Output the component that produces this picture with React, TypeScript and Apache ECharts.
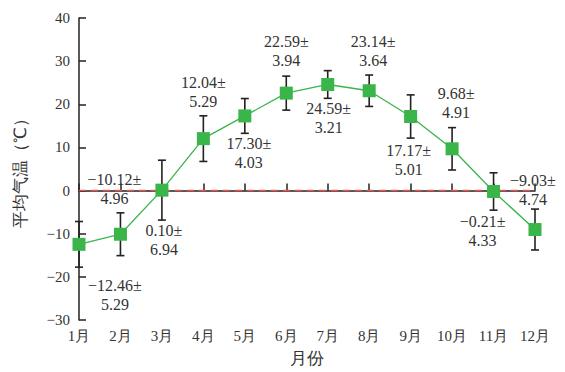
import React, { useEffect, useRef } from "react";
import * as echarts from "echarts";

const months = ["1月", "2月", "3月", "4月", "5月", "6月", "7月", "8月", "9月", "10月", "11月", "12月"];
const means = [-12.46, -10.12, 0.1, 12.04, 17.3, 22.59, 24.59, 23.14, 17.17, 9.68, -0.21, -9.03];
const sds = [5.29, 4.96, 6.94, 5.29, 4.03, 3.94, 3.21, 3.64, 5.01, 4.91, 4.33, 4.74];
const yTicks = { min: -30, max: 40, interval: 10 };
// label placement relative to each point (pixels)
const labelOffsets: [number, number][] = [
  [36, 51], [-6, -45], [2, 50], [0, -47], [4, 37], [0, -42],
  [1, 34], [4, -40], [-2, 44], [4, -46], [-11, 40], [-2, -40],
];

const FONT = "Liberation Serif";
const fmt = (v: number) => (v < 0 ? "\u2212" + Math.abs(v).toFixed(2) : v.toFixed(2));

export default function App() {
  const ref = useRef<HTMLDivElement>(null);
  useEffect(() => {
    if (!ref.current) return;
    const chart = echarts.init(ref.current, undefined, { renderer: "svg" });
    chart.setOption({
      animation: false,
      textStyle: { fontFamily: FONT },
      grid: { left: 79, right: 30, top: 18, bottom: 52, outerBoundsMode: "none" },
      xAxis: {
        type: "category",
        data: months,
        boundaryGap: false,
        name: "月份",
        nameLocation: "middle",
        nameGap: 30,
        nameTextStyle: { fontSize: 17, color: "#333", fontFamily: FONT },
        axisLine: { lineStyle: { color: "#222", width: 1.5 } },
        axisTick: { inside: true, length: 7, lineStyle: { color: "#222", width: 1.5 } },
        axisLabel: { fontSize: 15, color: "#333", fontFamily: FONT, margin: 8 },
        splitLine: { show: false },
      },
      yAxis: {
        type: "value",
        min: yTicks.min,
        max: yTicks.max,
        interval: yTicks.interval,
        name: "平均气温（℃）",
        nameLocation: "middle",
        nameGap: 50,
        nameTextStyle: { fontSize: 17, color: "#333", fontFamily: FONT },
        axisLine: { show: true, lineStyle: { color: "#222", width: 1.5 } },
        axisTick: { show: true, inside: true, length: 7, lineStyle: { color: "#222", width: 1.5 } },
        axisLabel: {
          fontSize: 15,
          color: "#333",
          fontFamily: FONT,
          margin: 9,
          formatter: (v: number) => (v < 0 ? "\u2212" + Math.abs(v) : String(v)),
        },
        splitLine: { show: false },
      },
      series: [
        {
          type: "custom",
          z: 3,
          data: means.map((m, i) => [i, m - sds[i], m + sds[i]]),
          renderItem: (params: any, api: any) => {
            const x = api.value(0);
            const lo = api.coord([x, api.value(1)]);
            const hi = api.coord([x, api.value(2)]);
            const w = 4;
            const style = { stroke: "#222", lineWidth: 1.6 };
            return {
              type: "group",
              children: [
                { type: "line", shape: { x1: lo[0], y1: lo[1], x2: hi[0], y2: hi[1] }, style },
                { type: "line", shape: { x1: lo[0] - w, y1: lo[1], x2: lo[0] + w, y2: lo[1] }, style },
                { type: "line", shape: { x1: hi[0] - w, y1: hi[1], x2: hi[0] + w, y2: hi[1] }, style },
              ],
            };
          },
        },
        {
          type: "line",
          z: 5,
          symbol: "rect",
          symbolSize: 13,
          itemStyle: { color: "#39b54a" },
          lineStyle: { color: "#39b54a", width: 1.3 },
          data: means.map((m, i) => ({
            value: m,
            label: { offset: labelOffsets[i] },
          })),
          label: {
            show: true,
            position: "inside",
            align: "center",
            verticalAlign: "middle",
            fontSize: 16,
            lineHeight: 19,
            color: "#333",
            fontFamily: FONT,
            formatter: (p: any) => `${fmt(means[p.dataIndex])}±\n${sds[p.dataIndex].toFixed(2)}`,
          },
          markLine: {
            silent: true,
            symbol: "none",
            label: { show: false },
            lineStyle: { color: "#e8534f", type: [7, 5], width: 1.3 },
            data: [{ yAxis: 0 }],
            z: 2,
          },
        },
      ],
    });
    return () => chart.dispose();
  }, []);
  return <div ref={ref} style={{ width: 565, height: 372, position: "absolute", left: 0, top: 0 }} />;
}
